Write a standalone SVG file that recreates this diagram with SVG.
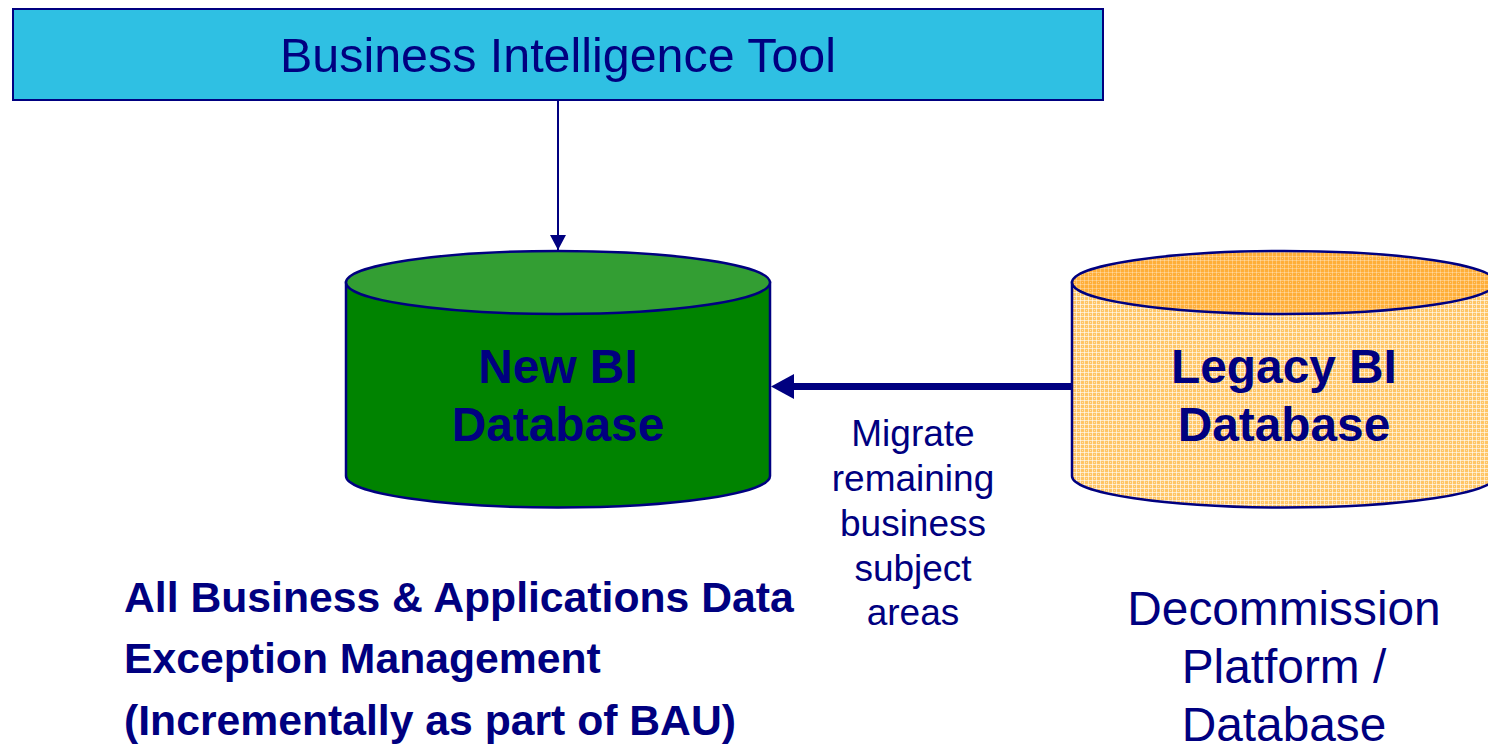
<svg xmlns="http://www.w3.org/2000/svg" width="1488" height="744" viewBox="0 0 1488 744">
<style>
text{font-family:"Liberation Sans",Arial,sans-serif;fill:#000080}
.m{text-anchor:middle}
.s{stroke:#000080;stroke-width:2}
.c{stroke:#000080;stroke-width:2.500}
.h{font-size:47.800px;font-weight:bold}
.l{font-size:42.700px;font-weight:bold}
.t{font-size:37px}
.d{font-size:47.800px}
</style>
<defs>
<pattern id="body" width="8" height="8" patternUnits="userSpaceOnUse">
<rect width="8" height="8" fill="#ffc565"/>
<rect x="2" y="2" width="1" height="1" fill="#ffe2ad"/>
<rect x="6" y="6" width="1" height="1" fill="#ffe2ad"/>
<path d="M0 .5H8M0 4.500H8M.5 0V8M4.500 0V8" stroke="#fff" stroke-opacity=".6" stroke-width="1"/>
</pattern>
<pattern id="top" width="8" height="8" patternUnits="userSpaceOnUse">
<rect width="8" height="8" fill="#ffae38"/>
<rect x="2" y="2" width="1" height="1" fill="#ffcb80"/>
<path d="M0 .5H8M0 4.500H8M.5 0V8M4.500 0V8" stroke="#fff" stroke-opacity=".3" stroke-width="1"/>
</pattern>
<marker id="a1" markerUnits="userSpaceOnUse" markerWidth="16" markerHeight="16" refX="15" refY="8" orient="auto"><path d="M0 0L15 8L0 16z" fill="#000080"/></marker>
</defs>
<g id="connectors">
<line class="s" x1="558" y1="100" x2="558" y2="250" marker-end="url(#a1)"/>
<line x1="1072" y1="386.500" x2="792" y2="386.500" stroke="#000080" stroke-width="7"/>
<path d="M771 386.500L794 374V399z" fill="#000080"/>
</g>
<g id="bi-tool">
<rect class="s" x="13" y="9" width="1090" height="91" fill="#2fc0e3"/>
<text class="m" x="558" y="72" font-size="48.400">Business Intelligence Tool</text>
</g>
<g id="new-bi-database">
<path class="c" d="M346 282.500V476A212 31.500 0 0 0 770 476V282.500z" fill="#008300"/>
<ellipse class="c" cx="558" cy="282.500" rx="212" ry="31.500" fill="#339e33"/>
<text class="m h" x="558" y="383">New BI</text>
<text class="m h" x="558" y="441">Database</text>
</g>
<g id="legacy-bi-database">
<path class="c" d="M1072 282.500V476A212 31.500 0 0 0 1496 476V282.500z" fill="url(#body)"/>
<ellipse class="c" cx="1284" cy="282.500" rx="212" ry="31.500" fill="url(#top)"/>
<text class="m h" x="1284" y="383">Legacy BI</text>
<text class="m h" x="1284" y="441">Database</text>
</g>
<g id="migrate-label">
<text class="m t" x="913" y="446">Migrate</text>
<text class="m t" x="913" y="491">remaining</text>
<text class="m t" x="913" y="536">business</text>
<text class="m t" x="913" y="581">subject</text>
<text class="m t" x="913" y="625">areas</text>
</g>
<g id="new-notes">
<text class="l" x="124" y="612">All Business &amp; Applications Data</text>
<text class="l" x="124" y="673">Exception Management</text>
<text class="l" x="124" y="735">(Incrementally as part of BAU)</text>
</g>
<g id="legacy-notes">
<text class="m d" x="1284" y="625">Decommission</text>
<text class="m d" x="1284" y="683">Platform /</text>
<text class="m d" x="1284" y="741">Database</text>
</g>
</svg>
